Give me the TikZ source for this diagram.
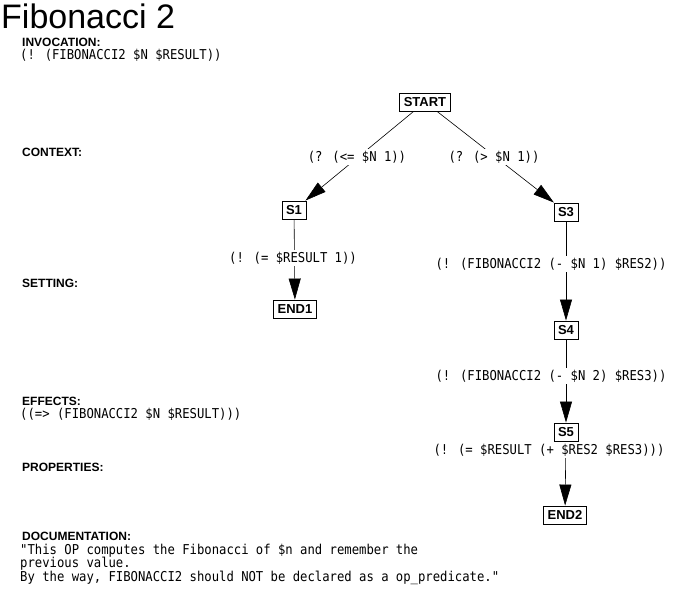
\documentclass[tikz,border=0pt]{standalone}
\usepackage{fontspec}
\setmainfont{Liberation Sans}
\newfontfamily\codefont[FakeStretch=0.9]{DejaVu Sans Mono}
\usetikzlibrary{arrows.meta}
\begin{document}
\begin{tikzpicture}[x=1pt,y=-1pt,
 box/.style={draw, line width=0.9pt, font=\bfseries\fontsize{13}{14}\selectfont, inner xsep=4pt, inner ysep=0pt, minimum height=18pt},
 code/.style={font=\codefont\fontsize{13.6}{15}\selectfont, inner sep=0pt},
 codel/.style={code, anchor=west},
 lab/.style={code, fill=white, inner xsep=1pt, inner ysep=2pt},
 head/.style={font=\bfseries\fontsize{12}{13}\selectfont, inner sep=0pt, anchor=west},
 edge/.style={line width=0.6pt},
 arr/.style={edge, -{Triangle[length=21pt,width=12pt]}}]
\useasboundingbox (0,0) rectangle (676,599);
\fill[white] (0,0) rectangle (676,599);
% title and headings
\node[anchor=west, inner sep=0pt, font=\fontsize{34}{36}\selectfont] (title) at (1,16.5) {Fibonacci 2};
\node[head] (hinv) at (22,42) {INVOCATION:};
\node[codel] (inv) at (20,55) {(! (FIBONACCI2 \$N \$RESULT))};
\node[head] (hctx) at (22,152) {CONTEXT:};
\node[head] (hset) at (22,283) {SETTING:};
\node[head] (heff) at (22,401) {EFFECTS:};
\node[codel] (eff) at (20,414) {((=> (FIBONACCI2 \$N \$RESULT)))};
\node[head] (hprop) at (22,467) {PROPERTIES:};
\node[head] (hdoc) at (22,536) {DOCUMENTATION:};
\node[codel] (doc1) at (20,551) {"This OP computes the Fibonacci of \$n and remember the};
\node[codel] (doc2) at (20,564) {previous value.};
\node[codel] (doc3) at (20,578) {By the way, FIBONACCI2 should NOT be declared as a op\_predicate."};
% nodes
\node[box] (start) at (425,102) {START};
\node[box] (s1) at (294,210) {S1};
\node[box] (s3) at (566,212) {S3};
\node[box] (end1) at (295,309) {END1};
\node[box] (s4) at (566,330) {S4};
\node[box] (s5) at (566,432) {S5};
\node[box] (end2) at (565,515) {END2};
% edges
\draw[arr] (start) -- (s1);
\draw[arr] (start) -- (s3);
\draw[arr] (s1) -- (end1);
\draw[arr] (s3) -- (s4);
\draw[arr] (s4) -- (s5);
\draw[arr] (s5) -- (end2);
% edge labels
\node[lab] (l1) at (357,157) {(? (<= \$N 1))};
\node[lab] (l2) at (494,157) {(? (> \$N 1))};
\node[lab] (l3) at (293,258) {(! (= \$RESULT 1))};
\node[lab] (l4) at (551,264) {(! (FIBONACCI2 (- \$N 1) \$RES2))};
\node[lab] (l5) at (551,376) {(! (FIBONACCI2 (- \$N 2) \$RES3))};
\node[lab] (l6) at (549,450) {(! (= \$RESULT (+ \$RES2 \$RES3)))};
\end{tikzpicture}
\end{document}
